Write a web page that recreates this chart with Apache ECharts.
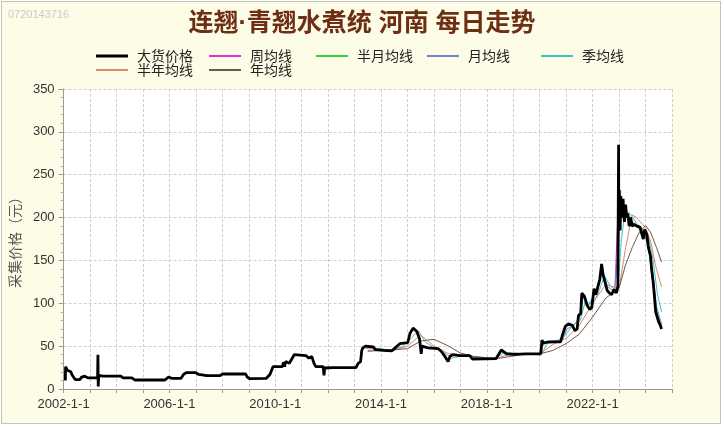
<!DOCTYPE html>
<html><head><meta charset="utf-8">
<script src="https://cdn.jsdelivr.net/npm/echarts@6/dist/echarts.min.js"></script>
<style>
html,body{margin:0;padding:0;background:#ffffff;}
#bg{position:absolute;left:1px;top:1px;width:718px;height:421px;background:#fdfde7;border:1px solid #c4c4bc;}
#chart{position:absolute;left:0;top:0;width:724px;height:428px;}
</style></head>
<body><div id="bg"></div><div id="chart"></div>
<script>
// ---- data ----
const titleText = '连翘·青翘水煮统 河南 每日走势';
const watermark = '0720143716';
const yName = '采集价格（元）';
const seriesNames = ['大货价格','周均线','半月均线','月均线','季均线','半年均线','年均线'];
const xLabelYears = [2002, 2006, 2010, 2014, 2018, 2022];

const priceDates = ['2002-01-25','2002-01-28','2002-02-20','2002-03-15','2002-04-10','2002-05-01','2002-06-10','2002-08-15','2002-09-01','2002-10-20','2002-12-01','2003-04-15','2003-04-20','2003-04-24','2003-05-01','2003-07-01','2004-03-01','2004-04-01','2004-08-01','2004-09-10','2005-11-01','2005-12-20','2006-02-01','2006-06-10','2006-07-15','2006-08-20','2007-01-01','2007-02-10','2007-06-01','2007-12-01','2008-01-01','2008-11-20','2008-12-10','2009-01-15','2009-09-01','2009-10-20','2009-12-01','2010-04-10','2010-04-25','2010-05-10','2010-05-25','2010-07-15','2010-09-20','2011-03-01','2011-03-20','2011-04-10','2011-05-20','2011-06-20','2011-07-15','2011-10-25','2011-11-05','2011-11-15','2012-03-01','2013-01-20','2013-02-20','2013-03-25','2013-04-10','2013-04-25','2013-06-01','2013-09-15','2013-10-15','2014-02-01','2014-06-01','2014-07-01','2014-09-20','2015-01-05','2015-02-05','2015-03-20','2015-05-10','2015-06-15','2015-07-10','2015-07-20','2015-10-10','2016-03-01','2016-04-10','2016-06-01','2016-07-15','2016-08-10','2016-09-15','2017-01-01','2017-05-10','2017-06-15','2018-05-10','2018-06-10','2018-07-20','2018-10-01','2019-01-01','2019-07-01','2020-01-15','2020-02-01','2020-02-20','2020-05-01','2020-10-15','2020-11-10','2020-12-20','2021-02-01','2021-03-30','2021-05-01','2021-06-01','2021-06-20','2021-07-20','2021-08-05','2021-09-10','2021-10-15','2021-11-20','2021-12-20','2022-01-20','2022-02-15','2022-03-10','2022-04-10','2022-05-05','2022-05-25','2022-06-20','2022-07-20','2022-08-20','2022-09-20','2022-10-20','2022-11-25','2022-12-15','2022-12-25','2022-12-28','2023-01-05','2023-01-15','2023-01-25','2023-02-10','2023-02-25','2023-03-15','2023-04-01','2023-04-15','2023-05-01','2023-05-20','2023-06-10','2023-07-01','2023-08-01','2023-09-01','2023-10-15','2023-12-01','2023-12-20','2024-01-20','2024-02-10','2024-03-10','2024-03-25','2024-04-15','2024-05-01','2024-05-20','2024-06-10','2024-07-01','2024-07-20','2024-08-10'];
const priceValues = [10,26,22,21,20,16,11,11,13.5,15,13,13,40,3,16,15,15,13,13,10.5,10.5,14,12.5,12.5,17,19,19,17,15.5,15.5,17.5,17.5,14,12,12.5,17,26,26,31,26,32,30,40,39,41,36,38,30,26,26,16,24.5,25,25,30,32,45,48,50,49,46,45,44.5,47,53,54,65,71,67,59,41,50,48,47,44,38,32,38,40,39,39,35,35.5,40,45.5,41,40.5,41,41,57,53.5,55,55,63,73,76,74,68,70,86,88,112,108,98,93,95,117,110,118,128,146,133,125,115,112,110,116,112,120,285,190,232,185,225,200,222,195,215,200,205,190,200,190,192,190,189,175,186,180,165,155,140,125,110,90,88,78,75,70];

const weekDates = ['2022-11-01','2022-12-28','2023-01-20','2023-03-01','2023-05-01','2023-08-01','2023-12-20','2024-02-20','2024-04-20','2024-06-01','2024-08-10'];
const weekValues = [112,230,210,212,203,191,184,160,117,90,71];

const halfMonthDates = ['2022-11-01','2022-12-20','2023-01-05','2023-01-25','2023-03-01','2023-05-01','2023-08-01','2023-12-15','2024-02-20','2024-04-20','2024-06-01','2024-08-10'];
const halfMonthValues = [113,118,225,205,210,203,191,183,160,120,92,73];

const monthDates = ['2020-01-01','2020-03-01','2020-11-15','2021-01-10','2021-04-15','2021-07-05','2021-08-25','2021-11-01','2022-02-05','2022-05-20','2022-07-20','2022-11-01','2023-01-20','2023-03-01','2023-05-15','2023-08-01','2023-12-15','2024-02-20','2024-04-15','2024-06-01','2024-08-10'];
const monthValues = [41,54,58,70,74,84,108,97,112,140,120,113,205,210,200,192,182,163,132,96,76];

const quarterDates = ['2013-06-01','2013-09-01','2014-01-01','2014-06-01','2014-11-01','2015-03-01','2015-06-01','2015-09-01','2016-01-01','2016-06-01','2016-09-01','2017-02-01','2017-08-01','2018-05-01','2018-09-01','2019-01-01','2019-07-01','2020-02-01','2020-04-15','2020-10-01','2021-01-15','2021-04-01','2021-07-15','2021-09-20','2022-01-01','2022-03-20','2022-06-15','2022-09-01','2022-12-15','2023-02-01','2023-04-01','2023-06-15','2023-09-01','2023-12-01','2024-02-15','2024-04-15','2024-06-15','2024-08-10'];
const quarterValues = [47,48,47,45,50,60,68,55,48,42,36,39,37,35.5,43,42,40.5,42,53,55,66,74,80,102,99,112,132,120,114,175,210,203,193,186,176,150,110,90];

const halfYearDates = ['2013-07-01','2014-01-01','2014-07-01','2015-01-01','2015-07-01','2016-01-01','2016-07-01','2017-01-01','2017-07-01','2018-01-01','2018-07-01','2019-01-01','2019-07-01','2020-01-01','2020-07-01','2021-01-01','2021-07-01','2022-01-01','2022-07-01','2023-01-01','2023-04-01','2023-07-01','2023-09-01','2024-01-01','2024-03-15','2024-05-15','2024-08-10'];
const halfYearValues = [45,46,45,50,63,50,42,38,38,35.5,37,42,40.5,41,52,59,74,100,122,117,165,203,200,188,172,145,119];

const yearDates = ['2013-07-01','2014-01-01','2014-07-01','2015-01-01','2015-07-01','2016-01-01','2016-07-01','2017-01-01','2017-07-01','2018-01-01','2018-07-01','2019-01-01','2019-07-01','2020-01-01','2020-07-01','2021-01-01','2021-07-01','2022-01-01','2022-07-01','2023-01-01','2023-04-01','2023-07-01','2023-10-01','2024-01-01','2024-03-15','2024-06-01','2024-08-10'];
const yearValues = [44,45,46,47,56,58,51,42,38,36.5,36,38.5,41,41,45,53,64,84,106,118,145,165,182,191,182,165,148];

// ---- helpers ----
function toYear(s){
  const p = s.split('-').map(Number);
  const start = Date.UTC(p[0],0,1), end = Date.UTC(p[0]+1,0,1);
  return p[0] + (Date.UTC(p[0],p[1]-1,p[2]||1) - start)/(end-start);
}
function pairs(d,v){ return d.map((s,i)=>[toYear(s), v[i]]); }

const colors = ['#000000','#e030d8','#30d040','#6f82d6','#3fc4c8','#dc8a6c','#6a5a48'];
const widths = [2.8,1,1,1,1,1,1];
const dataSets = [
  pairs(priceDates, priceValues),
  pairs(weekDates, weekValues),
  pairs(halfMonthDates, halfMonthValues),
  pairs(monthDates, monthValues),
  pairs(quarterDates, quarterValues),
  pairs(halfYearDates, halfYearValues),
  pairs(yearDates, yearValues)
];
const zs = [10,3,3,3,3,3,3];

const series = seriesNames.map((n,i)=>({
  name:n, type:'line', data:dataSets[i], symbol:'none', showSymbol:false,
  lineStyle:{color:colors[i], width:widths[i]}, itemStyle:{color:colors[i]},
  z:zs[i], silent:true, animation:false
}));

// legend placement (left, top)
const legendPos = [[96,49],[209,49],[316,49],[427,49],[541,49],[96,63],[209,63]];
const legends = seriesNames.map((n,i)=>({
  data:[{name:n, icon:'rect'}], left:legendPos[i][0], top:legendPos[i][1], orient:'horizontal',
  padding:0, itemWidth:32, itemHeight:(i===0?3:2), itemGap:0, selectedMode:false,
  textStyle:{fontSize:14, color:'#222', fontFamily:'"Noto Sans CJK SC"', padding:[0,0,0,4]}
}));

const chart = echarts.init(document.getElementById('chart'), null, {renderer:'canvas'});
chart.setOption({
  backgroundColor:'transparent',
  animation:false,
  title:[
    {text:titleText, left:'center', top:7, textStyle:{fontSize:25, fontWeight:'bold', color:'#6e2e14', fontFamily:'"Liberation Sans", "Noto Sans CJK SC"'}},
    {text:watermark, left:3, top:4, textStyle:{fontSize:11, fontWeight:'normal', color:'#c9c9c9', fontFamily:'"Liberation Sans"'}}
  ],
  legend: legends,
  grid:{left:63, right:52, top:89, bottom:39, show:true, backgroundColor:'#ffffff', borderWidth:0},
  xAxis:{
    type:'value', min:2002, max:2025, interval:1,
    axisLine:{show:true, lineStyle:{color:'#9a9a9a'}},
    axisTick:{show:true, length:4, lineStyle:{color:'#9a9a9a'}},
    axisLabel:{fontSize:13, color:'#333', fontFamily:'"Liberation Sans"', margin:9,
      formatter:v=>{const y=Math.round(v); return xLabelYears.indexOf(y)>=0 ? y+'-1-1' : '';}},
    splitLine:{show:true, lineStyle:{color:'#cfcfcf', type:[3,2], width:1}}
  },
  yAxis:{
    type:'value', min:0, max:350, interval:50,
    name:yName, nameLocation:'middle', nameGap:36, nameRotate:90,
    nameTextStyle:{fontSize:14, color:'#555', fontFamily:'"Noto Sans CJK SC"'},
    axisLine:{show:true, lineStyle:{color:'#9a9a9a'}},
    axisTick:{show:true, length:5, lineStyle:{color:'#9a9a9a'}},
    minorTick:{show:true, splitNumber:5, length:3, lineStyle:{color:'#b0b0b0'}},
    axisLabel:{fontSize:13, color:'#333', fontFamily:'"Liberation Sans"', margin:9},
    splitLine:{show:true, lineStyle:{color:'#cfcfcf', type:[3,2], width:1}}
  },
  series: series
});
</script></body></html>
